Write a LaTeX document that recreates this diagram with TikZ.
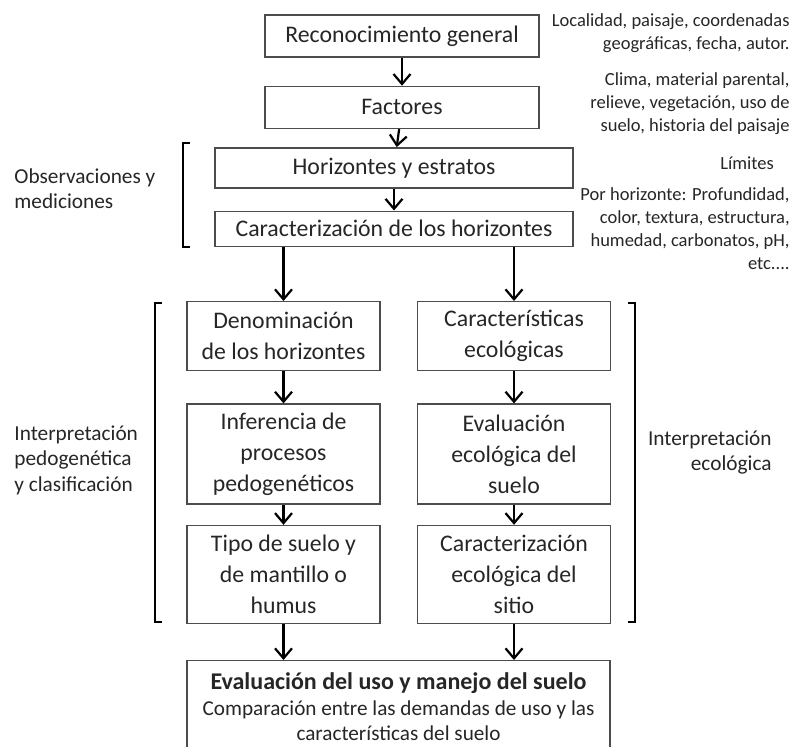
\documentclass[tikz,border=0pt]{standalone}
\usepackage{fontspec}
\setmainfont{Carlito}
\usetikzlibrary{arrows.meta,positioning}

\begin{document}
\begin{tikzpicture}[x=0.5pt, y=-0.5pt,
  flowstep/.style={draw=black!70, line width=0.7pt, align=center, inner sep=2pt, text=black!85, font=\fontsize{11.9}{15.5}\selectfont},
  topstep/.style={flowstep, minimum width=137pt, minimum height=21pt},
  midstep/.style={flowstep, minimum width=179pt},
  colstep/.style={flowstep, minimum width=96.5pt},
  note/.style={align=right, inner sep=0pt, text=black!85, font=\fontsize{9.25}{11.5}\selectfont},
  side/.style={inner sep=0pt, text=black!85, font=\fontsize{10.65}{12.75}\selectfont},
  arr/.style={-{Straight Barb[length=5pt, width=8.5pt]}, line width=1.1pt},
  brack/.style={line width=1.2pt}
]
\useasboundingbox (0,0) rectangle (793,746);

% main chain
\node[topstep] (rec) at (402,36) {Reconocimiento general};
\node[topstep, below=14pt of rec] (fac) {Factores};
\node[midstep, minimum height=20pt, below=9pt of fac, xshift=-4pt] (hor) {Horizontes y estratos};
\node[midstep, minimum height=17.5pt, below=11pt of hor] (car) {Caracterización de los horizontes};

% left column
\node[colstep, minimum height=34.5pt, anchor=north] (den) at (283.5,301) {Denominación\\de los horizontes};
\node[colstep, minimum height=50pt, below=16pt of den] (inf) {Inferencia de\\procesos\\pedogenéticos};
\node[colstep, minimum height=49pt, below=10pt of inf] (tip) {Tipo de suelo y\\de mantillo o\\humus};

% right column
\node[colstep, minimum height=34.5pt, anchor=north] (ecc) at (514,301) {Características\\ecológicas};
\node[colstep, minimum height=50pt, below=16pt of ecc] (eva) {Evaluación\\ecológica del\\suelo};
\node[colstep, minimum height=49pt, below=10pt of eva] (sit) {Caracterización\\ecológica del\\sitio};

\node[flowstep, anchor=north, minimum width=211.5pt, minimum height=46pt, inner ysep=2pt, font=\fontsize{10.6}{12.9}\selectfont] (fin) at (398.5,660)
  {{\bfseries\fontsize{12}{12.9}\selectfont Evaluación del uso y manejo del suelo}\\Comparación entre las demandas de uso y las\\características del suelo};

% notes on the right
\node[note, anchor=east] (n1) at (790,33.5) {Localidad, paisaje, coordenadas\\geográficas, fecha, autor.};
\node[note, anchor=east] (n2) at (790,103.5) {Clima, material parental,\\relieve, vegetación, uso de\\suelo, historia del paisaje};
\node[note] (n3) at (747,163) {Límites};
\node[note, anchor=east] (n4) at (790,229) {Por horizonte: Profundidad,\\color, textura, estructura,\\humedad, carbonatos, pH,\\etc....};

% side labels
\node[side, anchor=west, align=left] (obs) at (14,188.5) {Observaciones y\\mediciones};
\node[side, anchor=west, align=left] (ipc) at (14,460) {Interpretación\\pedogenética\\y clasificación};
\node[side, anchor=east, align=right] (ieco) at (772,452.5) {Interpretación\\ecológica};

% brackets
\draw[brack] (190,143) -- (183,143) -- (183,247) -- (190,247);
\draw[brack] (162,303) -- (155,303) -- (155,622) -- (162,622);
\draw[brack] (628,303) -- (635,303) -- (635,622) -- (628,622);

\draw[arr] (rec) -- (fac);
\draw[arr] (fac) -- (hor);
\draw[arr] (hor) -- (car);
\draw[arr] (car.south -| den) -- (den);
\draw[arr] (car.south -| ecc) -- (ecc);
\draw[arr] (den) -- (inf);
\draw[arr] (inf) -- (tip);
\draw[arr] (ecc) -- (eva);
\draw[arr] (eva) -- (sit);
\draw[arr] (tip) -- (tip |- fin.north);
\draw[arr] (sit) -- (sit |- fin.north);

\end{tikzpicture}
\end{document}
